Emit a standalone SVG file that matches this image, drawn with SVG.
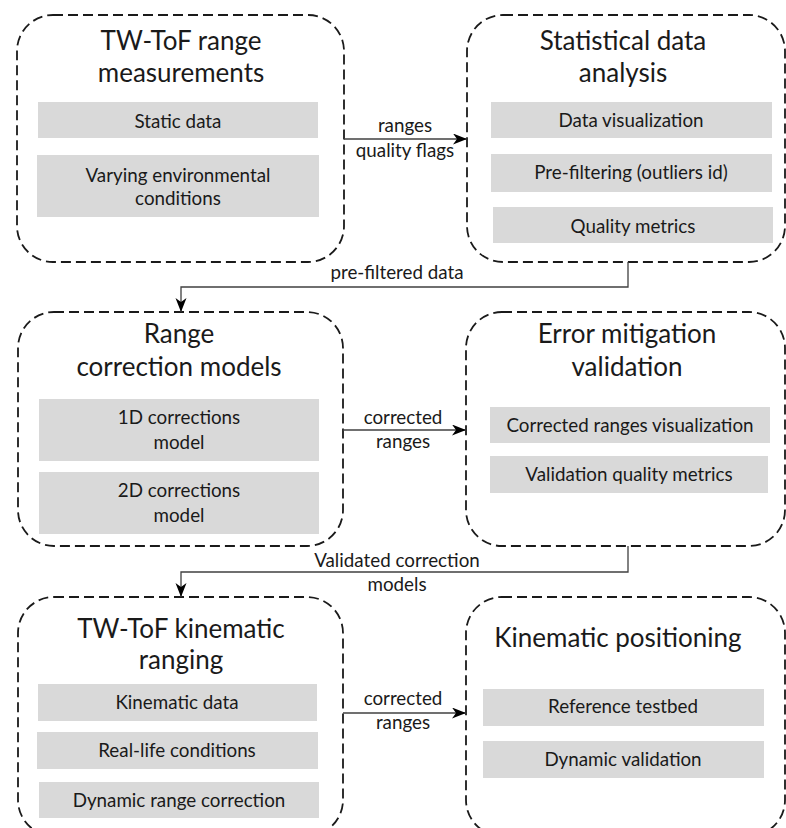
<svg xmlns="http://www.w3.org/2000/svg" width="786" height="828" viewBox="0 0 786 828">
<style>
.box{fill:none;stroke:#1a1a1a;stroke-width:1.8;stroke-dasharray:10 5}
.item{fill:#d9d9d9}
.title{font-family:Lato,"Liberation Sans",sans-serif;font-size:26px;fill:#1a1a1a;text-anchor:middle}
.txt{font-family:Lato,"Liberation Sans",sans-serif;font-size:18.8px;fill:#1a1a1a;text-anchor:middle}
.lbl{font-family:Lato,"Liberation Sans",sans-serif;font-size:18.8px;fill:#1a1a1a;text-anchor:middle}
.conn{fill:none;stroke:#404040;stroke-width:1.3}
</style>
<defs>
<marker id="arr" markerUnits="userSpaceOnUse" markerWidth="16" markerHeight="13" refX="14" refY="5.5" orient="auto">
<path d="M0,0 L14,5.5 L0,11 L4,5.5 Z" fill="#000"/>
</marker>
</defs>
<rect width="786" height="828" fill="#fff"/>

<g id="n1">
<rect class="box" x="17" y="15" width="327" height="247" rx="36"/>
<text class="title" x="181" y="50">TW-ToF range</text>
<text class="title" x="181" y="82">measurements</text>
<rect class="item" x="38" y="102" width="280" height="36"/>
<text class="txt" x="178" y="128">Static data</text>
<rect class="item" x="37" y="155" width="282" height="62"/>
<text class="txt" x="178" y="182">Varying environmental</text>
<text class="txt" x="178" y="205">conditions</text>
</g>

<g id="n2">
<rect class="box" x="467" y="15" width="318" height="247" rx="36"/>
<text class="title" x="623" y="50">Statistical data</text>
<text class="title" x="623" y="82">analysis</text>
<rect class="item" x="491" y="102" width="281" height="36"/>
<text class="txt" x="631" y="127">Data visualization</text>
<rect class="item" x="491" y="154" width="281" height="38"/>
<text class="txt" x="631" y="179">Pre-filtering (outliers id)</text>
<rect class="item" x="493" y="207" width="280" height="36"/>
<text class="txt" x="633" y="233">Quality metrics</text>
</g>

<g id="n3">
<rect class="box" x="18" y="312" width="325" height="234" rx="36"/>
<text class="title" x="179" y="343">Range</text>
<text class="title" x="179" y="376">correction models</text>
<rect class="item" x="39" y="399" width="280" height="62"/>
<text class="txt" x="179" y="424">1D corrections</text>
<text class="txt" x="179" y="449">model</text>
<rect class="item" x="39" y="472" width="280" height="62"/>
<text class="txt" x="179" y="497">2D corrections</text>
<text class="txt" x="179" y="522">model</text>
</g>

<g id="n4">
<rect class="box" x="466" y="312" width="319" height="234" rx="36"/>
<text class="title" x="627" y="343">Error mitigation</text>
<text class="title" x="627" y="376">validation</text>
<rect class="item" x="490" y="407" width="280" height="36"/>
<text class="txt" x="630" y="432">Corrected ranges visualization</text>
<rect class="item" x="490" y="456" width="278" height="37"/>
<text class="txt" x="629" y="481">Validation quality metrics</text>
</g>

<g id="n5">
<rect class="box" x="18" y="597" width="325" height="239" rx="36"/>
<text class="title" x="181" y="638">TW-ToF kinematic</text>
<text class="title" x="181" y="669">ranging</text>
<rect class="item" x="38" y="684" width="279" height="37"/>
<text class="txt" x="177" y="709">Kinematic data</text>
<rect class="item" x="37" y="732" width="281" height="37"/>
<text class="txt" x="177" y="757">Real-life conditions</text>
<rect class="item" x="39" y="782" width="280" height="36"/>
<text class="txt" x="179" y="807">Dynamic range correction</text>
</g>

<g id="n6">
<rect class="box" x="466" y="597" width="319" height="239" rx="36"/>
<text class="title" x="618" y="647">Kinematic positioning</text>
<rect class="item" x="483" y="689" width="281" height="37"/>
<text class="txt" x="623" y="713">Reference testbed</text>
<rect class="item" x="483" y="741" width="281" height="37"/>
<text class="txt" x="623" y="766">Dynamic validation</text>
</g>

<g id="connectors">
<line class="conn" x1="344" y1="139" x2="467" y2="139" marker-end="url(#arr)"/>
<text class="lbl" x="405" y="132">ranges</text>
<text class="lbl" x="405" y="157">quality flags</text>

<path class="conn" d="M628,262 V287 H181 V312" marker-end="url(#arr)"/>
<text class="lbl" x="397" y="279">pre-filtered data</text>

<line class="conn" x1="343" y1="430" x2="466" y2="430" marker-end="url(#arr)"/>
<text class="lbl" x="403" y="424">corrected</text>
<text class="lbl" x="403" y="448">ranges</text>

<path class="conn" d="M628,546 V572 H181 V597" marker-end="url(#arr)"/>
<text class="lbl" x="397" y="567">Validated correction</text>
<text class="lbl" x="397" y="591">models</text>

<line class="conn" x1="343" y1="713" x2="466" y2="713" marker-end="url(#arr)"/>
<text class="lbl" x="403" y="705">corrected</text>
<text class="lbl" x="403" y="729">ranges</text>
</g>
</svg>
